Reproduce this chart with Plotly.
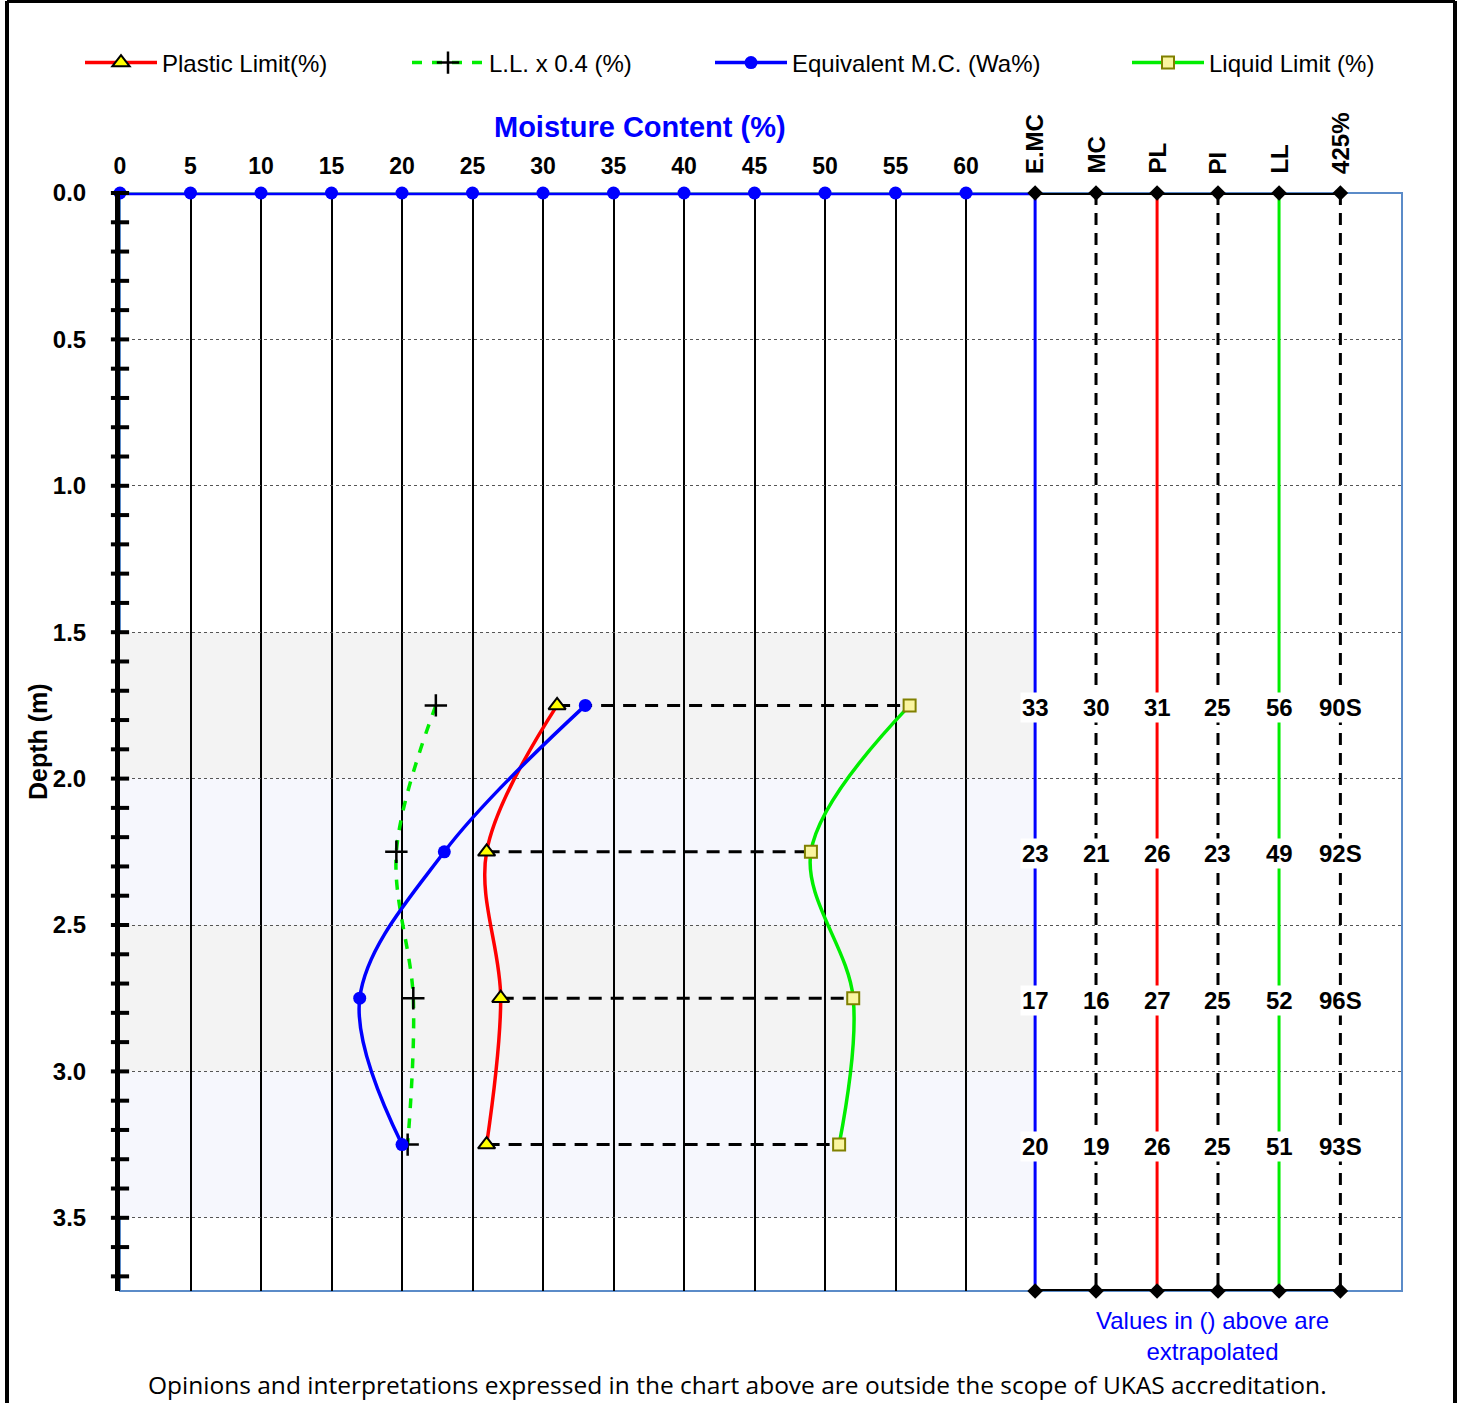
import plotly.graph_objects as go

# ---- data ----
depth = [1.75, 2.25, 2.75, 3.25]
plastic_limit = [31, 26, 27, 26]
liquid_limit = [56, 49, 52, 51]
ll_x04 = [22.4, 19.6, 20.8, 20.4]
equiv_mc = [33, 23, 17, 20]
moisture = [30, 21, 16, 19]
plasticity_index = [25, 23, 25, 25]
passing_425 = ["90S", "92S", "96S", "93S"]

mc_ticks = list(range(0, 65, 5))
depth_ticks = [0.0, 0.5, 1.0, 1.5, 2.0, 2.5, 3.0, 3.5]
column_headers = ["E.MC", "MC", "PL", "PI", "LL", "425%"]
column_values = [equiv_mc, moisture, plastic_limit, plasticity_index, liquid_limit, passing_425]

# layout geometry (data units on the moisture axis)
X_MAX = 90.92
Y_MAX = 3.75
col_x = [64.9, 69.22, 73.55, 77.87, 82.2, 86.55]
col_style = [
    dict(color="#0000ff", dash="solid"),
    dict(color="black", dash="12px,8px"),
    dict(color="#ff0000", dash="solid"),
    dict(color="black", dash="12px,8px"),
    dict(color="#00ee00", dash="solid"),
    dict(color="black", dash="12px,8px"),
]
bands = [(1.5, 2.0, "#f3f3f3"), (2.0, 2.5, "#f6f7fd"), (2.5, 3.0, "#f3f3f3"), (3.0, 3.5, "#f6f7fd")]

FONT = "Liberation Sans, Arial, sans-serif"

# pixel -> paper helpers (plot area spans x 120..1402, y 193..1291)
px = lambda p: (p - 120) / 1282
py = lambda p: 1 - (p - 193) / 1098

fig = go.Figure()

# data columns on the right
for cx, st in zip(col_x, col_style):
    fig.add_trace(go.Scatter(x=[cx, cx], y=[0, Y_MAX], mode="lines",
                             line=dict(color=st["color"], width=3, dash=st["dash"]),
                             showlegend=False, hoverinfo="skip"))

# dashed tie lines from PL to LL
for d, p, l in zip(depth, plastic_limit, liquid_limit):
    fig.add_trace(go.Scatter(x=[p, l], y=[d, d], mode="lines",
                             line=dict(color="black", width=3, dash="13px,9px"),
                             showlegend=False, hoverinfo="skip"))

# series, each with its own legend box
fig.add_trace(go.Scatter(
    x=plastic_limit, y=depth, mode="lines+markers", name="Plastic Limit(%)", legend="legend",
    line=dict(color="#ff0000", width=3.5, shape="spline", smoothing=1),
    marker=dict(symbol="triangle-up", size=15, color="#ffff00", line=dict(color="black", width=2))))
fig.add_trace(go.Scatter(
    x=ll_x04, y=depth, mode="lines+markers", name="L.L. x 0.4 (%)", legend="legend2",
    line=dict(color="#00ee00", width=3.5, dash="10px,10px", shape="spline", smoothing=1),
    marker=dict(symbol="cross-thin", size=16, color="black", line=dict(color="black", width=2.5))))
fig.add_trace(go.Scatter(
    x=equiv_mc, y=depth, mode="lines+markers", name="Equivalent M.C. (Wa%)", legend="legend3",
    line=dict(color="#0000ff", width=3.5, shape="spline", smoothing=1),
    marker=dict(symbol="circle", size=13, color="#0000ff")))
fig.add_trace(go.Scatter(
    x=liquid_limit, y=depth, mode="lines+markers", name="Liquid Limit (%)", legend="legend4",
    line=dict(color="#00ee00", width=3.5, shape="spline", smoothing=1),
    marker=dict(symbol="square", size=12, color="#faf5a0", line=dict(color="#808000", width=2))))

# top moisture scale line with tick dots
fig.add_trace(go.Scatter(x=mc_ticks + [col_x[0]], y=[0] * (len(mc_ticks) + 1), mode="lines",
                         line=dict(color="#0000ff", width=4.5), showlegend=False, hoverinfo="skip",
                         cliponaxis=False))
fig.add_trace(go.Scatter(x=mc_ticks, y=[0] * len(mc_ticks), mode="markers",
                         marker=dict(symbol="circle", size=13, color="#0000ff"),
                         showlegend=False, hoverinfo="skip", cliponaxis=False))
# top and bottom black rails of the data columns
for yy in (0, Y_MAX):
    fig.add_trace(go.Scatter(x=col_x, y=[yy] * len(col_x), mode="lines+markers",
                             line=dict(color="black", width=4),
                             marker=dict(symbol="diamond", size=12, color="black"),
                             showlegend=False, hoverinfo="skip", cliponaxis=False))

# depth axis tick marks on both sides of the axis line
minor = [round(i * 0.1, 2) for i in range(0, 38)]
fig.add_trace(go.Scatter(x=[0] * len(minor), y=minor, mode="markers",
                         marker=dict(symbol="line-ew", size=13, line=dict(color="black", width=4)),
                         showlegend=False, hoverinfo="skip", cliponaxis=False))

# column values
annotations = []
for cx, vals in zip(col_x, column_values):
    for d, v in zip(depth, vals):
        annotations.append(dict(x=cx, y=d, xref="x", yref="y", text=str(v), showarrow=False,
                                xanchor="center", yanchor="middle", yshift=-2,
                                bgcolor="white", borderpad=1,
                                font=dict(family=FONT, size=24, color="black", weight="bold")))
# column headers
for cx, h in zip(col_x, column_headers):
    annotations.append(dict(x=cx, y=py(176), xref="x", yref="paper", text=h, textangle=-90,
                            showarrow=False, xanchor="center", yanchor="bottom",
                            font=dict(family=FONT, size=24, color="black", weight="bold")))

annotations += [
    dict(x=px(640), y=py(127), xref="paper", yref="paper", xanchor="center", yanchor="middle",
         text="Moisture Content (%)", showarrow=False,
         font=dict(family=FONT, size=29, color="#0000ff", weight="bold")),
    dict(x=px(38), y=0.5, xref="paper", yref="paper", xanchor="center", yanchor="middle",
         text="Depth (m)", textangle=-90, showarrow=False,
         font=dict(family=FONT, size=25, color="black", weight="bold")),
    dict(x=px(1212), y=py(1336), xref="paper", yref="paper", xanchor="center", yanchor="middle",
         text="Values in () above are<br>extrapolated", showarrow=False,
         font=dict(family=FONT, size=24, color="#0000ff")),
    dict(x=px(737), y=py(1384), xref="paper", yref="paper", xanchor="center", yanchor="middle",
         text="Opinions and interpretations expressed in the chart above are outside the scope of UKAS accreditation.",
         showarrow=False, font=dict(family="Open Sans, sans-serif", size=24.5, color="black")),
]

shapes = []
for y0, y1, c in bands:
    shapes.append(dict(type="rect", xref="x", yref="y", x0=0, x1=col_x[0], y0=y0, y1=y1,
                       fillcolor=c, line=dict(width=0), layer="below"))
# plot frame
shapes.append(dict(type="rect", xref="paper", yref="paper", x0=0, x1=1, y0=0, y1=1,
                   line=dict(color="#5b8bc8", width=2), layer="below"))
# page frame
for x0, y0, x1, y1 in [(7, 1, 7, 1403), (1455, 1, 1455, 1403), (7, 1, 1455, 1)]:
    shapes.append(dict(type="line", xref="paper", yref="paper", x0=px(x0), x1=px(x1),
                       y0=py(y0), y1=py(y1), line=dict(color="black", width=4)))

legend_common = dict(orientation="h", yanchor="middle", y=py(63), xanchor="left",
                     font=dict(family=FONT, size=24, color="black"), itemwidth=72,
                     bgcolor="rgba(0,0,0,0)", borderwidth=0)
legend_left = [80, 407, 710, 1127]

fig.update_layout(
    width=1461, height=1403,
    margin=dict(l=120, r=59, t=193, b=112),
    paper_bgcolor="white", plot_bgcolor="white",
    font=dict(family=FONT, color="black"),
    showlegend=True,
    legend=dict(legend_common, x=px(legend_left[0])),
    legend2=dict(legend_common, x=px(legend_left[1])),
    legend3=dict(legend_common, x=px(legend_left[2])),
    legend4=dict(legend_common, x=px(legend_left[3])),
    xaxis=dict(range=[0, X_MAX], side="top", tickvals=mc_ticks, ticktext=[str(t) for t in mc_ticks],
               ticks="", ticklabelstandoff=13,
               tickfont=dict(family=FONT, size=23, color="black", weight="bold"),
               showgrid=True, gridcolor="black", gridwidth=1.5, zeroline=False, showline=False),
    yaxis=dict(range=[Y_MAX, 0], tickvals=depth_ticks, ticktext=[f"{t:.1f}" for t in depth_ticks],
               ticks="", ticklabelstandoff=24,
               tickfont=dict(family=FONT, size=24, color="black", weight="bold"),
               showgrid=True, gridcolor="#555555", gridwidth=1, griddash="dot",
               zeroline=False, showline=True, linecolor="black", linewidth=5),
    annotations=annotations,
    shapes=shapes,
)

fig.write_html("out.html")
